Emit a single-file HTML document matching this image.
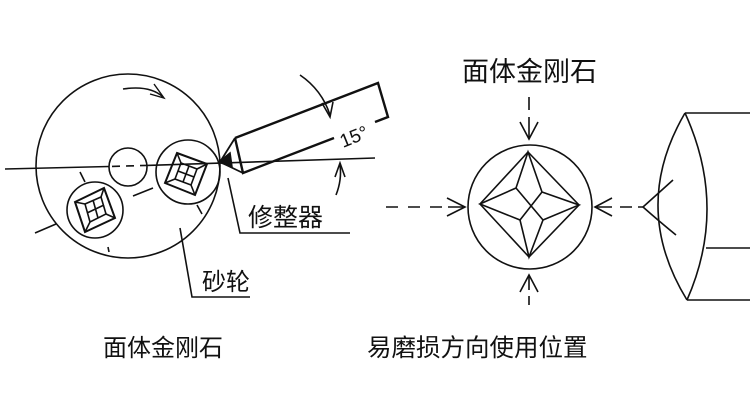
<!DOCTYPE html>
<html><head><meta charset="utf-8"><style>
html,body{margin:0;padding:0;background:#fff;}
svg{display:block}
text{font-family:"Liberation Sans","Noto Sans CJK SC",sans-serif;fill:#111}
</style></head><body>
<svg width="750" height="403" viewBox="0 0 750 403" xmlns="http://www.w3.org/2000/svg">
<g fill="none" stroke="#111" stroke-width="1.6">
<circle cx="128" cy="166" r="92"/>
<circle cx="128" cy="167" r="19"/>
<circle cx="188" cy="172" r="32"/>
<circle cx="95" cy="210" r="28"/>
<path d="M5 169 L109 166.5"/>
<path d="M112 166.4 L120 166.2 M126 166 L134 165.8 M140 165.6 L147 165.4"/>
<path d="M147 165.4 L375 158"/>
<path d="M123 89 Q150 85 163 97"/>
<path d="M154 84 L164 98 L150 94" stroke-width="1.4"/>
<path d="M80 172 L85 182 M35 233 L56 224 M108 247 L109 252 M133 196 L153 188 M197 205 L202 214"/>
<g stroke-width="1.6">
<!-- right wheel diamond: center (186,174) -->
<path d="M177 153 L207 164 L195 195 L165 183 Z" stroke-width="2"/>
<path d="M181 163 L197 169 L191 185 L175 179 Z"/>
<path d="M177 153 L181 163 M207 164 L197 169 M195 195 L191 185 M165 183 L175 179"/>
<path d="M189 166 L183 182 M178 171 L194 177"/>
<!-- left wheel diamond: center (95,210) -->
<path d="M75 202 L104 188 L115 218 L85 232 Z" stroke-width="2"/>
<path d="M85 204 L101 197 L106 214 L90 222 Z"/>
<path d="M75 202 L85 204 M104 188 L101 197 M115 218 L106 214 M85 232 L90 222"/>
<path d="M93 200 L98 218 M87 213 L104 205"/>
</g>
<path d="M235 138 L378 83 L388 117 L375 122" stroke-width="2.4"/>
<path d="M334 138 L243 173 L235 138" stroke-width="2.4"/>
<path d="M220 162 L235 138 M220 162 L243 173" stroke-width="1.8"/>
<path d="M219 162 L230 153 L232 167 Z" fill="#111"/>
<path d="M300 75 Q322 90 330 115"/>
<path d="M322 103 L330 117 L333 102"/>
<path d="M336 195 Q342 180 340 165"/>
<path d="M335 177 L340 163 L345 177"/>
<path d="M228 178 L240 233 L350 233"/>
<path d="M180 228 L192 297 L250 297"/>
<circle cx="530" cy="207" r="62"/>
<path d="M528 152 L579 205 L529 257 L480 204 Z"/>
<path d="M528 152 L516 188 L480 204 L520 220 L529 257 L543 220 L579 205 L542 192 Z"/>
<path d="M516 188 L543 220 M542 192 L520 220"/>
<path d="M529 97 L529 110 M529 117 L529 139" />
<path d="M520 122 L529 139 L538 122"/>
<path d="M529 276 L529 290 M529 296 L529 305"/>
<path d="M520 292 L529 275 L538 292"/>
<path d="M386 207 L398 207 M408 207 L420 207 M430 207 L442 207 M448 207 L465 207"/>
<path d="M447 198 L465 207 L447 216"/>
<path d="M595 207 L612 207 M620 207 L632 207 M638 207 L644 207"/>
<path d="M612 198 L595 207 L612 216"/>
<path d="M643 207 L673 180 M643 207 Q660 222 676 235"/>
<path d="M685 113 Q630 207 687 300"/>
<path d="M685 113 Q728 207 687 300"/>
<path d="M685 113 L750 113 M706 248 L750 248 M687 300 L750 300"/>
</g>
<text x="343" y="148" font-size="19" transform="rotate(-22 343 148)">15°</text>
<text x="248" y="226" font-size="25">修整器</text>
<text x="202" y="290" font-size="24">砂轮</text>
<text x="462" y="81" font-size="27">面体金刚石</text>
<text x="103" y="356" font-size="24">面体金刚石</text>
<text x="367" y="356" font-size="24.5">易磨损方向使用位置</text>
</svg>
</body></html>
